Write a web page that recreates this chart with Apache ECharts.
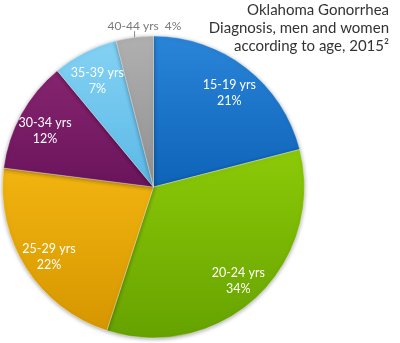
<!DOCTYPE html>
<html>
<head>
<meta charset="utf-8">
<script src="https://cdn.jsdelivr.net/npm/echarts@6/dist/echarts.min.js"></script>
<style>
  html, body { margin: 0; padding: 0; background: #fff; }
  #chart { width: 400px; height: 343px; }
</style>
</head>
<body>
<div id="chart"></div>
<script>
// Gonorrhea diagnoses in Oklahoma by age group, 2015 (percent of total)
var ageGroups = ['15-19 yrs', '20-24 yrs', '25-29 yrs', '30-34 yrs', '35-39 yrs', '40-44 yrs'];
var shares = [21, 34, 22, 12, 7, 4];
var sliceColors = [
  ['#2a85d8', '#0e63b8'],
  ['#8cca08', '#66a200'],
  ['#f2b410', '#d69600'],
  ['#86246f', '#6a145c'],
  ['#84d2f4', '#5ab8e6'],
  ['#b0b0b0', '#909090']
];

var chart = echarts.init(document.getElementById('chart'), null, { renderer: 'canvas' });

function grad(c) {
  return new echarts.graphic.LinearGradient(0, 0, 0, 1, [
    { offset: 0, color: c[0] },
    { offset: 1, color: c[1] }
  ]);
}

var pieData = ageGroups.map(function (name, i) {
  return { name: name, value: shares[i], itemStyle: { color: grad(sliceColors[i]) } };
});

// Label-only ring so the inside labels sit near the outer edge
var labelData = ageGroups.map(function (name, i) {
  var item = { name: name, value: shares[i] };
  if (i === ageGroups.length - 1) {
    item.label = {
      position: 'outside',
      formatter: '{b}  {d}%',
      color: '#7a7a7a',
      fontSize: 12,
      offset: [0, 0]
    };
    item.labelLine = { show: true, length: 6, length2: 0, lineStyle: { color: '#8a8a8a', width: 1 } };
  }
  return item;
});

var R = 151;
var C = [153.5, 187];

chart.setOption({
  animation: false,
  title: {
    text: 'Oklahoma Gonorrhea\nDiagnosis, men and women\naccording to age, 2015\u00B2',
    left: 389,
    top: 1,
    padding: 0,
    textAlign: 'right',
    textStyle: {
      fontFamily: 'Lato',
      fontWeight: 'normal',
      fontSize: 15,
      lineHeight: 18,
      color: '#333'
    }
  },
  series: [
    {
      type: 'pie',
      center: C,
      radius: [0, R],
      startAngle: 90,
      clockwise: true,
      silent: true,
      label: { show: false },
      labelLine: { show: false },
      itemStyle: {
        borderColor: 'rgba(255,255,255,0.35)',
        borderWidth: 1,
        shadowBlur: 4,
        shadowOffsetY: 1,
        shadowColor: 'rgba(0,0,0,0.35)'
      },
      data: pieData
    },
    {
      type: 'pie',
      center: C,
      radius: [R * 0.6, R],
      startAngle: 90,
      clockwise: true,
      silent: true,
      itemStyle: { color: 'rgba(0,0,0,0)' },
      label: {
        show: true,
        position: 'inside',
        formatter: '{b}\n{d}%',
        color: '#fff',
        fontFamily: 'Lato',
        fontSize: 12.5,
        lineHeight: 16,
        offset: [0, 4]
      },
      labelLine: { show: false },
      labelLayout: function (p) {
        if (p.dataIndex !== ageGroups.length - 1 || !p.labelLinePoints) return {};
        var a = p.labelLinePoints[0];
        return {
          x: a[0] - 27,
          y: a[1] - 11,
          align: 'left',
          verticalAlign: 'middle',
          labelLinePoints: [[a[0], a[1]], [a[0], a[1] - 6], [a[0], a[1] - 6]]
        };
      },
      data: labelData
    }
  ]
});
</script>
</body>
</html>
